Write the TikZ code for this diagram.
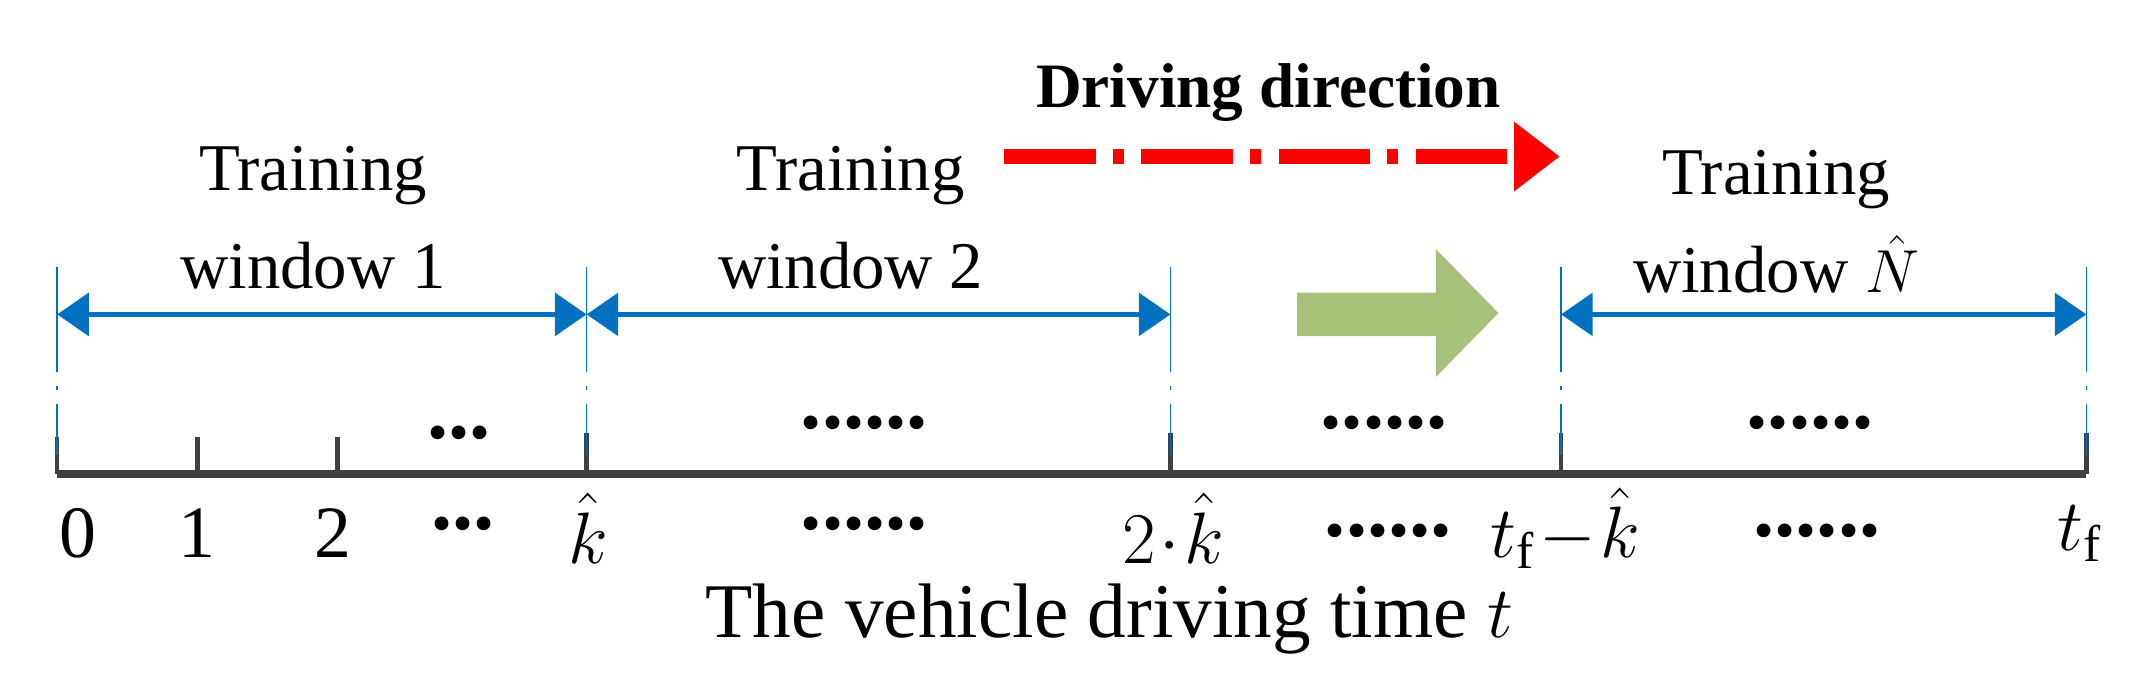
\documentclass[tikz,border=0pt]{standalone}
\usepackage{fontspec}
\setmainfont{Liberation Serif}
\usetikzlibrary{arrows.meta}
\definecolor{winblue}{RGB}{0,112,192}
\definecolor{axgray}{RGB}{64,64,64}
\definecolor{movegreen}{RGB}{169,192,120}
\newcommand{\hdots}{\textbf{......}}
\tikzset{
  win/.style={winblue,line width=1.6pt,{Triangle[width=12pt,length=9pt]}-{Triangle[width=12pt,length=9pt]}},
  bound/.style={winblue,thin,dash pattern=on 30pt off 4pt on 1pt off 4pt},
  lab/.style={font=\fontsize{21}{26}\selectfont},
  dots/.style={font=\fontsize{24}{26}\selectfont},
  wtext/.style={font=\fontsize{19}{24}\selectfont,align=center}
}
\begin{document}
\begin{tikzpicture}[x=0.01361cm,y=-0.01361cm]
    \useasboundingbox (0,0) rectangle (1568,504);
    % time axis
    \coordinate (a0) at (42,348);
    \coordinate (a1) at (1533,348);
    \draw[axgray,line width=2.2pt] (a0) -- (a1);
    \foreach \x in {42,145,248} \draw[axgray,line width=1.3pt] (\x,348) -- (\x,321);
    \foreach \x in {431,860,1147,1533} \draw[axgray,line width=1.3pt] (\x,348) -- (\x,318);
    % window boundaries
    \foreach \x/\n in {42/b0,431/b1,860/b2,1147/b3,1533/b4} {
        \coordinate (\n) at (\x,231);
        \draw[bound] (\x,196) -- (\x,334);
    }
    \draw[win] (b0) -- (b1);
    \draw[win] (b1) -- (b2);
    \draw[win] (b3) -- (b4);
    \node[wtext] (w1) at (230,160) {Training\\[4pt]window 1};
    \node[wtext] (w2) at (625,160) {Training\\[4pt]window 2};
    \node[wtext] (w3) at (1305,163) {Training\\[4pt]window $\hat{N}$};
    % driving direction
    \node[font=\fontsize{18}{22}\selectfont\bfseries] (dir) at (932,68) {Driving direction};
    \coordinate (r0) at (738,115);
    \coordinate (r1) at (1146,115);
    \draw[red,line width=4.5pt,dash pattern=on 26pt off 5pt on 3pt off 5pt,-{Triangle[width=19pt,length=13pt]}] (r0) -- (r1);
    \fill[movegreen] (953,215) -- (1055,215) -- (1055,183) -- (1101,230)
        -- (1055,277) -- (1055,247) -- (953,247) -- cycle;
    % dots above axis
    \node[dots] (d1) at (337,318) {\textbf{...}};
    \foreach \x/\n in {635/u1,1017/u2,1330/u3} \node[dots] (\n) at (\x,311) {\hdots};
    % axis labels
    \node[lab] (l0) at (57,392) {0};
    \node[lab] (l1) at (145,392) {1};
    \node[lab] (l2) at (245,392) {2};
    \node[dots] (l3) at (340,385) {\textbf{...}};
    \node[lab] (l4) at (432,388) {$\hat{k}$};
    \node[dots] (l5) at (635,385) {\hdots};
    \node[lab] (l6) at (862,388) {$2\!\cdot\!\hat{k}$};
    \node[dots] (l7) at (1020,390) {\hdots};
    \node[lab] (l8) at (1150,388) {$t_{\mathrm{f}}\!-\!\hat{k}$};
    \node[dots] (l9) at (1335,390) {\hdots};
    \node[lab] (l10) at (1528,392) {$t_{\mathrm{f}}$};
    \node[font=\fontsize{22}{26}\selectfont] (cap) at (815,455) {The vehicle driving time $t$};
\end{tikzpicture}
\end{document}
